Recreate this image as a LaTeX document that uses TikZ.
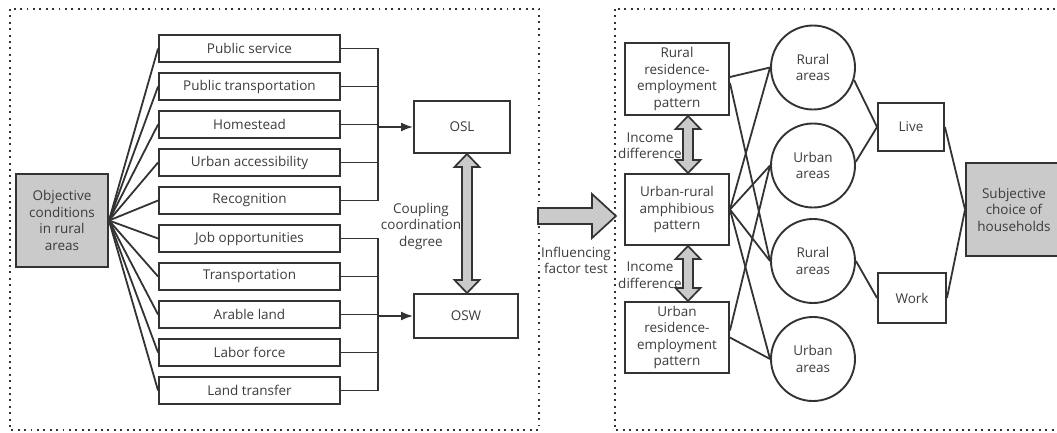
\documentclass[tikz,border=0pt]{standalone}
\usepackage{fontspec}
\setmainfont{Open Sans}
\usetikzlibrary{arrows.meta}
\definecolor{lc}{HTML}{333333}
\definecolor{tc}{HTML}{3C3C3C}
\definecolor{gc}{HTML}{CACACA}
\newcommand\dgfont{\fontsize{13.5}{16.5}\selectfont}
\newcommand\vdblarrow[3]{%
  \filldraw[garrow] ({#1-5},{#2+13}) -- ({#1-12.5},{#2+13}) -- (#1,#2) -- ({#1+12.5},{#2+13}) -- ({#1+5},{#2+13}) -- ({#1+5},{#3-13}) -- ({#1+12.5},{#3-13}) -- (#1,#3) -- ({#1-12.5},{#3-13}) -- ({#1-5},{#3-13}) -- cycle;}
\tikzset{
  lnst/.style={draw=lc, line width=1.9pt},
  fbox/.style={lnst, text=tc, font=\dgfont, minimum width=181pt, minimum height=27.5pt, inner sep=0pt},
  gbox/.style={lnst, fill=gc, text=tc, font=\dgfont, align=center, inner sep=0pt},
  wbox/.style={lnst, text=tc, font=\dgfont, align=center, inner sep=0pt},
  circ/.style={lnst, circle, minimum size=84pt, text=tc, font=\dgfont, align=center, inner sep=0pt},
  lbl/.style={text=tc, font=\dgfont, align=center, inner sep=0pt},
  conn/.style={draw=lc, line width=1.8pt},
  arr/.style={conn, -{Latex[length=12pt,width=9pt]}},
  border/.style={draw=lc, line width=1.9pt, dash pattern=on 1.9pt off 4.5pt},
  garrow/.style={draw=lc, line width=1.7pt, fill=gc, line join=miter},
}
\begin{document}
\begin{tikzpicture}[x=1pt,y=-1pt]
\useasboundingbox (0,0) rectangle (1057,432);
\clip (0,0) rectangle (1057,432);
% borders
\draw[border] (10,9) rectangle (539,430);
\draw[border] (615,9) rectangle (1070,430);
% left part
\node[gbox, minimum width=92pt, minimum height=93pt] (obj) at (62,220.5) {Objective\\conditions\\in rural\\areas};
\node[fbox] (f1) at (249.5,48.5) {Public service};
\node[fbox] (f2) at (249.5,86.5) {Public transportation};
\node[fbox] (f3) at (249.5,124.5) {Homestead};
\node[fbox] (f4) at (249.5,162.5) {Urban accessibility};
\node[fbox] (f5) at (249.5,200.5) {Recognition};
\node[fbox] (f6) at (249.5,238.5) {Job opportunities};
\node[fbox] (f7) at (249.5,276.5) {Transportation};
\node[fbox] (f8) at (249.5,314.5) {Arable land};
\node[fbox] (f9) at (249.5,352.5) {Labor force};
\node[fbox] (f10) at (249.5,390.5) {Land transfer};
\node[wbox, minimum width=96pt, minimum height=52pt] (osl) at (462,127) {OSL};
\node[wbox, minimum width=104pt, minimum height=44pt] (osw) at (466,316) {OSW};
\node[lbl] (coup) at (421,226) {Coupling\\coordination\\degree};
\foreach \i in {1,...,10} {\draw[conn] (obj.east) -- (f\i.west);}
\coordinate (b1) at (378,127);
\coordinate (b2) at (378,316);
\foreach \i in {1,...,5} {\draw[conn] (f\i.east) -| (b1);}
\foreach \i in {6,...,10} {\draw[conn] (f\i.east) -| (b2);}
\draw[arr] (b1) -- (osl.west);
\draw[arr] (b2) -- (osw.west);
\vdblarrow{467}{154}{293}
% big arrow
\filldraw[garrow] (538,208) -- (592,208) -- (592,194) -- (616,216) -- (592,238) -- (592,224) -- (538,224) -- cycle;
\node[lbl] (inf) at (576,260.5) {Influencing\\factor test};
% right part
\node[wbox, minimum width=104pt, minimum height=72pt] (rr) at (677,79) {Rural\\residence-\\employment\\pattern};
\node[wbox, minimum width=104pt, minimum height=71pt] (ur) at (677,209.5) {Urban-rural\\amphibious\\pattern};
\node[wbox, minimum width=104pt, minimum height=71pt] (ue) at (677,337.5) {Urban\\residence-\\employment\\pattern};
\vdblarrow{688}{116}{173}
\vdblarrow{688}{246}{301}
\node[lbl] (inc1) at (650,145.5) {Income\\difference};
\node[lbl] (inc2) at (650,275) {Income\\difference};
\node[circ] (c1) at (813,67.5) {Rural\\areas};
\node[circ] (c2) at (813,165.5) {Urban\\areas};
\node[circ] (c3) at (813,261) {Rural\\areas};
\node[circ] (c4) at (813,359) {Urban\\areas};
\node[wbox, minimum width=66pt, minimum height=48pt] (live) at (911,127) {Live};
\node[wbox, minimum width=68pt, minimum height=50pt] (work) at (912,298) {Work};
\node[gbox, minimum width=96pt, minimum height=93pt] (subj) at (1014,209.5) {Subjective\\choice of\\households};
\draw[conn] ([yshift=2pt]rr.east) -- (c1.west);
\draw[conn] ([yshift=-4pt]rr.east) -- (c3.west);
\draw[conn] (ur.east) -- (c1.west);
\draw[conn] (ur.east) -- (c2.west);
\draw[conn] (ur.east) -- (c3.west);
\draw[conn] (ur.east) -- (c4.west);
\draw[conn] ([yshift=7pt]ue.east) -- (c2.west);
\draw[conn] (ue.east) -- (c4.west);
\draw[conn] (c1.-17) -- (live.west);
\draw[conn] (c2.5) -- (live.west);
\draw[conn] (c3.east) -- (work.west);
\draw[conn] (live.east) -- (subj.west);
\draw[conn] (work.east) -- (subj.west);
\end{tikzpicture}
\end{document}
